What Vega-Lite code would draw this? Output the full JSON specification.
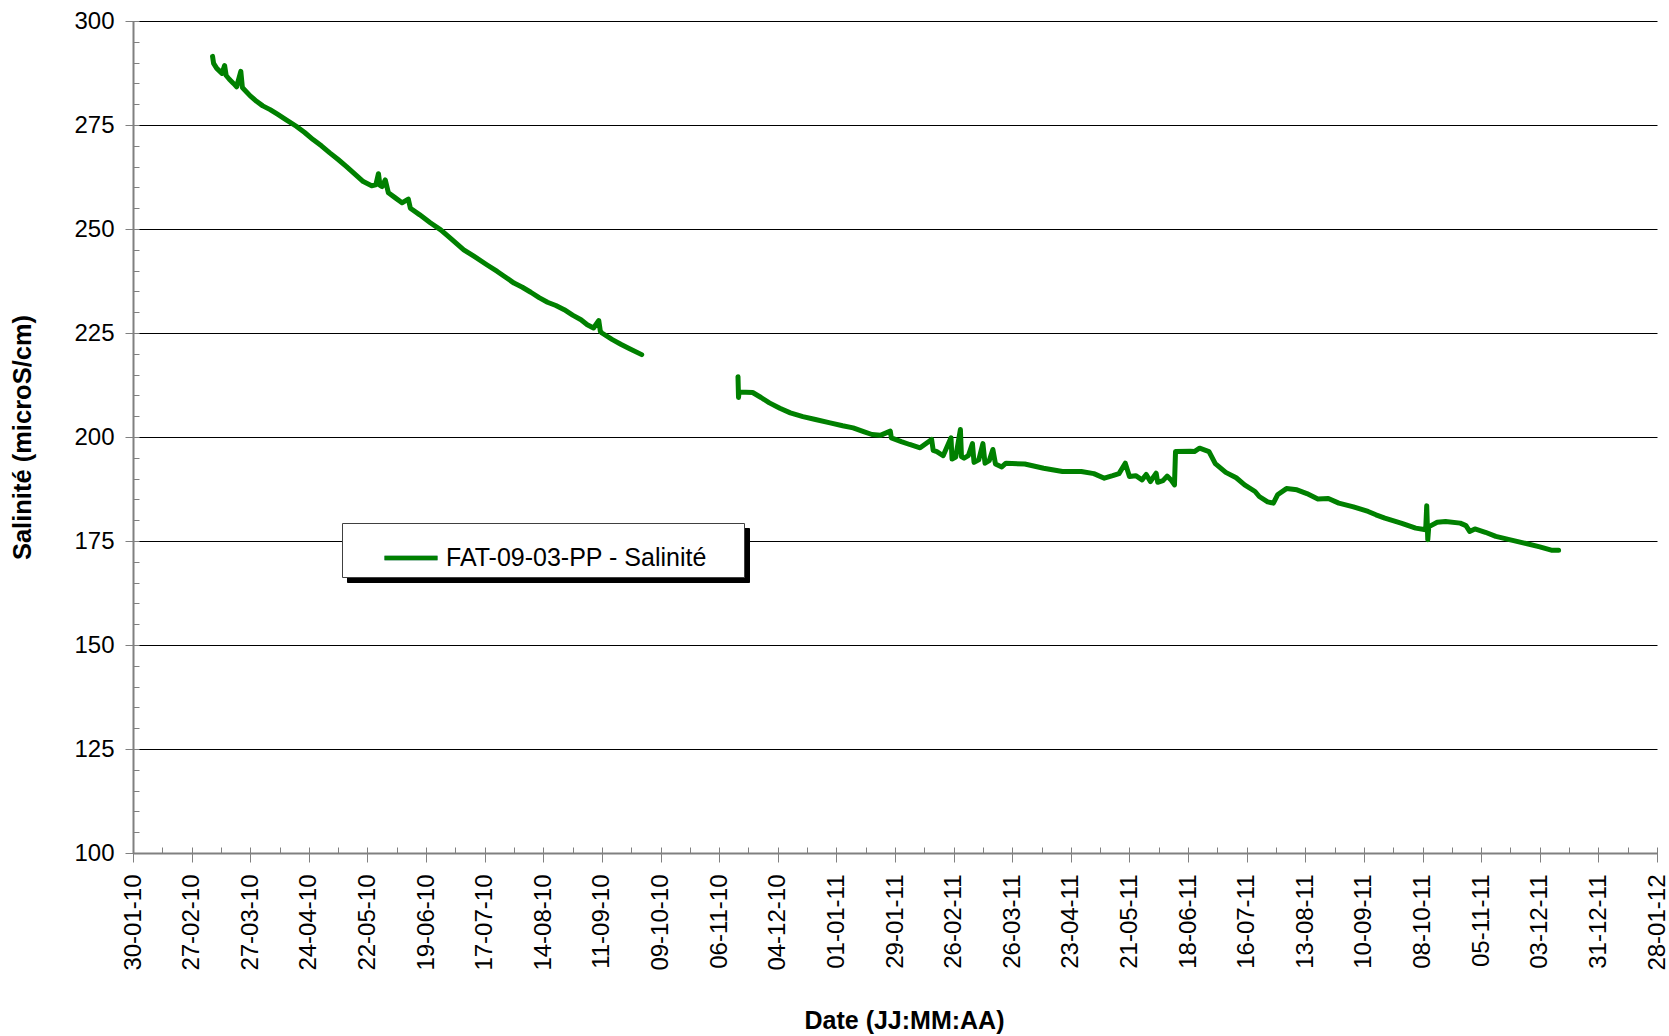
{
  "$schema": "https://vega.github.io/schema/vega-lite/v6.json",
  "width": 1524,
  "height": 832,
  "autosize": {"type": "none"},
  "padding": {"left": 133, "top": 21, "right": 12, "bottom": 183},
  "background": "#ffffff",
  "config": {
    "view": {"stroke": null},
    "font": "Liberation Sans",
    "axis": {
      "labelFont": "Liberation Sans",
      "titleFont": "Liberation Sans",
      "labelColor": "#000000",
      "titleColor": "#000000",
      "tickColor": "#808080",
      "tickWidth": 1,
      "domainColor": "#808080",
      "domainWidth": 2
    },
    "legend": {"labelFont": "Liberation Sans"}
  },
  "data": {
    "values": [
      {"date": "2010-03-09T00:00Z", "salinite": 291.5, "seg": 1},
      {"date": "2010-03-09T12:00Z", "salinite": 289.8, "seg": 1},
      {"date": "2010-03-11T00:00Z", "salinite": 288.6, "seg": 1},
      {"date": "2010-03-13T12:00Z", "salinite": 287.4, "seg": 1},
      {"date": "2010-03-14T18:00Z", "salinite": 289.3, "seg": 1},
      {"date": "2010-03-15T12:00Z", "salinite": 286.9, "seg": 1},
      {"date": "2010-03-17T00:00Z", "salinite": 286.0, "seg": 1},
      {"date": "2010-03-19T00:00Z", "salinite": 285.0, "seg": 1},
      {"date": "2010-03-20T12:00Z", "salinite": 284.2, "seg": 1},
      {"date": "2010-03-22T12:00Z", "salinite": 287.9, "seg": 1},
      {"date": "2010-03-23T06:00Z", "salinite": 284.0, "seg": 1},
      {"date": "2010-03-24T00:00Z", "salinite": 283.6, "seg": 1},
      {"date": "2010-03-27T00:00Z", "salinite": 282.0, "seg": 1},
      {"date": "2010-03-30T00:00Z", "salinite": 280.7, "seg": 1},
      {"date": "2010-04-02T00:00Z", "salinite": 279.6, "seg": 1},
      {"date": "2010-04-05T12:00Z", "salinite": 278.7, "seg": 1},
      {"date": "2010-04-09T00:00Z", "salinite": 277.6, "seg": 1},
      {"date": "2010-04-13T00:00Z", "salinite": 276.3, "seg": 1},
      {"date": "2010-04-18T00:00Z", "salinite": 274.7, "seg": 1},
      {"date": "2010-04-22T00:00Z", "salinite": 273.2, "seg": 1},
      {"date": "2010-04-26T00:00Z", "salinite": 271.5, "seg": 1},
      {"date": "2010-04-30T00:00Z", "salinite": 270.0, "seg": 1},
      {"date": "2010-05-04T00:00Z", "salinite": 268.3, "seg": 1},
      {"date": "2010-05-08T00:00Z", "salinite": 266.7, "seg": 1},
      {"date": "2010-05-12T00:00Z", "salinite": 265.0, "seg": 1},
      {"date": "2010-05-16T00:00Z", "salinite": 263.2, "seg": 1},
      {"date": "2010-05-20T00:00Z", "salinite": 261.4, "seg": 1},
      {"date": "2010-05-24T00:00Z", "salinite": 260.4, "seg": 1},
      {"date": "2010-05-26T00:00Z", "salinite": 260.6, "seg": 1},
      {"date": "2010-05-27T06:00Z", "salinite": 263.3, "seg": 1},
      {"date": "2010-05-28T00:00Z", "salinite": 260.5, "seg": 1},
      {"date": "2010-05-29T00:00Z", "salinite": 260.2, "seg": 1},
      {"date": "2010-05-30T12:00Z", "salinite": 261.8, "seg": 1},
      {"date": "2010-06-01T00:00Z", "salinite": 258.7, "seg": 1},
      {"date": "2010-06-04T00:00Z", "salinite": 257.6, "seg": 1},
      {"date": "2010-06-07T12:00Z", "salinite": 256.3, "seg": 1},
      {"date": "2010-06-10T12:00Z", "salinite": 257.2, "seg": 1},
      {"date": "2010-06-11T12:00Z", "salinite": 255.0, "seg": 1},
      {"date": "2010-06-16T00:00Z", "salinite": 253.4, "seg": 1},
      {"date": "2010-06-21T00:00Z", "salinite": 251.5, "seg": 1},
      {"date": "2010-06-26T00:00Z", "salinite": 249.8, "seg": 1},
      {"date": "2010-07-01T00:00Z", "salinite": 247.6, "seg": 1},
      {"date": "2010-07-07T00:00Z", "salinite": 245.0, "seg": 1},
      {"date": "2010-07-12T00:00Z", "salinite": 243.4, "seg": 1},
      {"date": "2010-07-18T00:00Z", "salinite": 241.4, "seg": 1},
      {"date": "2010-07-23T00:00Z", "salinite": 239.8, "seg": 1},
      {"date": "2010-07-27T00:00Z", "salinite": 238.4, "seg": 1},
      {"date": "2010-07-31T00:00Z", "salinite": 237.0, "seg": 1},
      {"date": "2010-08-04T00:00Z", "salinite": 236.0, "seg": 1},
      {"date": "2010-08-08T00:00Z", "salinite": 234.8, "seg": 1},
      {"date": "2010-08-12T00:00Z", "salinite": 233.5, "seg": 1},
      {"date": "2010-08-16T00:00Z", "salinite": 232.4, "seg": 1},
      {"date": "2010-08-20T00:00Z", "salinite": 231.6, "seg": 1},
      {"date": "2010-08-24T00:00Z", "salinite": 230.6, "seg": 1},
      {"date": "2010-08-28T00:00Z", "salinite": 229.3, "seg": 1},
      {"date": "2010-09-01T00:00Z", "salinite": 228.2, "seg": 1},
      {"date": "2010-09-04T00:00Z", "salinite": 227.0, "seg": 1},
      {"date": "2010-09-07T00:00Z", "salinite": 226.2, "seg": 1},
      {"date": "2010-09-09T12:00Z", "salinite": 228.0, "seg": 1},
      {"date": "2010-09-10T06:00Z", "salinite": 225.4, "seg": 1},
      {"date": "2010-09-11T00:00Z", "salinite": 225.0, "seg": 1},
      {"date": "2010-09-16T00:00Z", "salinite": 223.4, "seg": 1},
      {"date": "2010-09-20T00:00Z", "salinite": 222.3, "seg": 1},
      {"date": "2010-09-24T00:00Z", "salinite": 221.3, "seg": 1},
      {"date": "2010-09-30T00:00Z", "salinite": 219.8, "seg": 1},
      {"date": "2010-11-15T00:00Z", "salinite": 214.5, "seg": 2},
      {"date": "2010-11-15T06:00Z", "salinite": 209.5, "seg": 2},
      {"date": "2010-11-15T12:00Z", "salinite": 210.8, "seg": 2},
      {"date": "2010-11-22T00:00Z", "salinite": 210.7, "seg": 2},
      {"date": "2010-11-26T00:00Z", "salinite": 209.5, "seg": 2},
      {"date": "2010-11-30T00:00Z", "salinite": 208.2, "seg": 2},
      {"date": "2010-12-05T00:00Z", "salinite": 206.9, "seg": 2},
      {"date": "2010-12-10T00:00Z", "salinite": 205.8, "seg": 2},
      {"date": "2010-12-16T00:00Z", "salinite": 204.9, "seg": 2},
      {"date": "2010-12-22T00:00Z", "salinite": 204.2, "seg": 2},
      {"date": "2010-12-29T00:00Z", "salinite": 203.4, "seg": 2},
      {"date": "2011-01-04T00:00Z", "salinite": 202.7, "seg": 2},
      {"date": "2011-01-09T00:00Z", "salinite": 202.2, "seg": 2},
      {"date": "2011-01-14T00:00Z", "salinite": 201.3, "seg": 2},
      {"date": "2011-01-18T00:00Z", "salinite": 200.6, "seg": 2},
      {"date": "2011-01-22T00:00Z", "salinite": 200.4, "seg": 2},
      {"date": "2011-01-26T18:00Z", "salinite": 201.4, "seg": 2},
      {"date": "2011-01-27T06:00Z", "salinite": 199.8, "seg": 2},
      {"date": "2011-02-01T00:00Z", "salinite": 198.9, "seg": 2},
      {"date": "2011-02-05T00:00Z", "salinite": 198.2, "seg": 2},
      {"date": "2011-02-10T00:00Z", "salinite": 197.4, "seg": 2},
      {"date": "2011-02-15T12:00Z", "salinite": 199.4, "seg": 2},
      {"date": "2011-02-16T06:00Z", "salinite": 196.8, "seg": 2},
      {"date": "2011-02-18T00:00Z", "salinite": 196.5, "seg": 2},
      {"date": "2011-02-21T00:00Z", "salinite": 195.5, "seg": 2},
      {"date": "2011-02-24T18:00Z", "salinite": 199.8, "seg": 2},
      {"date": "2011-02-25T06:00Z", "salinite": 194.7, "seg": 2},
      {"date": "2011-02-27T00:00Z", "salinite": 195.2, "seg": 2},
      {"date": "2011-03-01T06:00Z", "salinite": 201.8, "seg": 2},
      {"date": "2011-03-01T18:00Z", "salinite": 195.3, "seg": 2},
      {"date": "2011-03-03T00:00Z", "salinite": 194.9, "seg": 2},
      {"date": "2011-03-05T00:00Z", "salinite": 195.5, "seg": 2},
      {"date": "2011-03-07T00:00Z", "salinite": 198.4, "seg": 2},
      {"date": "2011-03-07T18:00Z", "salinite": 193.9, "seg": 2},
      {"date": "2011-03-10T00:00Z", "salinite": 194.5, "seg": 2},
      {"date": "2011-03-12T00:00Z", "salinite": 198.4, "seg": 2},
      {"date": "2011-03-13T00:00Z", "salinite": 193.7, "seg": 2},
      {"date": "2011-03-15T00:00Z", "salinite": 194.3, "seg": 2},
      {"date": "2011-03-16T18:00Z", "salinite": 197.0, "seg": 2},
      {"date": "2011-03-18T00:00Z", "salinite": 193.5, "seg": 2},
      {"date": "2011-03-21T00:00Z", "salinite": 192.8, "seg": 2},
      {"date": "2011-03-23T00:00Z", "salinite": 193.7, "seg": 2},
      {"date": "2011-04-01T00:00Z", "salinite": 193.5, "seg": 2},
      {"date": "2011-04-10T00:00Z", "salinite": 192.5, "seg": 2},
      {"date": "2011-04-19T00:00Z", "salinite": 191.7, "seg": 2},
      {"date": "2011-04-28T00:00Z", "salinite": 191.7, "seg": 2},
      {"date": "2011-05-04T00:00Z", "salinite": 191.2, "seg": 2},
      {"date": "2011-05-09T00:00Z", "salinite": 190.1, "seg": 2},
      {"date": "2011-05-13T00:00Z", "salinite": 190.7, "seg": 2},
      {"date": "2011-05-16T00:00Z", "salinite": 191.2, "seg": 2},
      {"date": "2011-05-19T00:00Z", "salinite": 193.7, "seg": 2},
      {"date": "2011-05-21T00:00Z", "salinite": 190.5, "seg": 2},
      {"date": "2011-05-24T00:00Z", "salinite": 190.7, "seg": 2},
      {"date": "2011-05-27T00:00Z", "salinite": 189.7, "seg": 2},
      {"date": "2011-05-29T00:00Z", "salinite": 191.0, "seg": 2},
      {"date": "2011-05-31T00:00Z", "salinite": 189.3, "seg": 2},
      {"date": "2011-06-02T18:00Z", "salinite": 191.3, "seg": 2},
      {"date": "2011-06-03T12:00Z", "salinite": 189.1, "seg": 2},
      {"date": "2011-06-06T00:00Z", "salinite": 189.5, "seg": 2},
      {"date": "2011-06-08T00:00Z", "salinite": 190.6, "seg": 2},
      {"date": "2011-06-10T00:00Z", "salinite": 189.6, "seg": 2},
      {"date": "2011-06-11T12:00Z", "salinite": 188.5, "seg": 2},
      {"date": "2011-06-12T00:00Z", "salinite": 196.5, "seg": 2},
      {"date": "2011-06-19T00:00Z", "salinite": 196.6, "seg": 2},
      {"date": "2011-06-21T00:00Z", "salinite": 196.5, "seg": 2},
      {"date": "2011-06-23T12:00Z", "salinite": 197.3, "seg": 2},
      {"date": "2011-06-28T00:00Z", "salinite": 196.5, "seg": 2},
      {"date": "2011-07-01T00:00Z", "salinite": 193.6, "seg": 2},
      {"date": "2011-07-06T00:00Z", "salinite": 191.5, "seg": 2},
      {"date": "2011-07-11T00:00Z", "salinite": 190.2, "seg": 2},
      {"date": "2011-07-15T00:00Z", "salinite": 188.5, "seg": 2},
      {"date": "2011-07-20T00:00Z", "salinite": 186.9, "seg": 2},
      {"date": "2011-07-22T00:00Z", "salinite": 185.7, "seg": 2},
      {"date": "2011-07-26T00:00Z", "salinite": 184.4, "seg": 2},
      {"date": "2011-07-28T18:00Z", "salinite": 184.1, "seg": 2},
      {"date": "2011-07-30T18:00Z", "salinite": 186.1, "seg": 2},
      {"date": "2011-08-04T00:00Z", "salinite": 187.6, "seg": 2},
      {"date": "2011-08-09T00:00Z", "salinite": 187.3, "seg": 2},
      {"date": "2011-08-13T18:00Z", "salinite": 186.4, "seg": 2},
      {"date": "2011-08-19T00:00Z", "salinite": 185.1, "seg": 2},
      {"date": "2011-08-24T00:00Z", "salinite": 185.2, "seg": 2},
      {"date": "2011-08-29T00:00Z", "salinite": 184.1, "seg": 2},
      {"date": "2011-09-05T00:00Z", "salinite": 183.2, "seg": 2},
      {"date": "2011-09-12T00:00Z", "salinite": 182.1, "seg": 2},
      {"date": "2011-09-15T18:00Z", "salinite": 181.3, "seg": 2},
      {"date": "2011-09-20T00:00Z", "salinite": 180.5, "seg": 2},
      {"date": "2011-09-27T18:00Z", "salinite": 179.3, "seg": 2},
      {"date": "2011-10-04T18:00Z", "salinite": 178.1, "seg": 2},
      {"date": "2011-10-09T12:00Z", "salinite": 177.7, "seg": 2},
      {"date": "2011-10-10T00:00Z", "salinite": 183.5, "seg": 2},
      {"date": "2011-10-10T12:00Z", "salinite": 175.3, "seg": 2},
      {"date": "2011-10-11T00:00Z", "salinite": 178.6, "seg": 2},
      {"date": "2011-10-12T00:00Z", "salinite": 178.7, "seg": 2},
      {"date": "2011-10-15T00:00Z", "salinite": 179.5, "seg": 2},
      {"date": "2011-10-19T00:00Z", "salinite": 179.7, "seg": 2},
      {"date": "2011-10-26T00:00Z", "salinite": 179.3, "seg": 2},
      {"date": "2011-10-28T18:00Z", "salinite": 178.7, "seg": 2},
      {"date": "2011-10-30T12:00Z", "salinite": 177.3, "seg": 2},
      {"date": "2011-11-02T00:00Z", "salinite": 177.9, "seg": 2},
      {"date": "2011-11-07T00:00Z", "salinite": 177.1, "seg": 2},
      {"date": "2011-11-12T00:00Z", "salinite": 176.1, "seg": 2},
      {"date": "2011-11-19T12:00Z", "salinite": 175.2, "seg": 2},
      {"date": "2011-11-26T12:00Z", "salinite": 174.4, "seg": 2},
      {"date": "2011-12-03T00:00Z", "salinite": 173.6, "seg": 2},
      {"date": "2011-12-08T12:00Z", "salinite": 172.8, "seg": 2},
      {"date": "2011-12-12T00:00Z", "salinite": 172.8, "seg": 2}
    ]
  },
  "layer": [
    {
      "mark": {"type": "line", "opacity": 0},
      "encoding": {
        "x": {
          "field": "date",
          "type": "temporal",
          "scale": {
            "type": "utc",
            "nice": false,
            "domain": [
              {"year": 2010, "month": 1, "date": 30, "utc": true},
              {"year": 2012, "month": 1, "date": 28, "utc": true}
            ]
          },
          "axis": {
            "orient": "bottom",
            "title": null,
            "labels": false,
            "domain": false,
            "grid": false,
            "tickSize": -6,
            "values": [
              {"year": 2010, "month": 1, "date": 30, "utc": true},
              {"year": 2010, "month": 2, "date": 13, "utc": true},
              {"year": 2010, "month": 2, "date": 27, "utc": true},
              {"year": 2010, "month": 3, "date": 13, "utc": true},
              {"year": 2010, "month": 3, "date": 27, "utc": true},
              {"year": 2010, "month": 4, "date": 10, "utc": true},
              {"year": 2010, "month": 4, "date": 24, "utc": true},
              {"year": 2010, "month": 5, "date": 8, "utc": true},
              {"year": 2010, "month": 5, "date": 22, "utc": true},
              {"year": 2010, "month": 6, "date": 5, "utc": true},
              {"year": 2010, "month": 6, "date": 19, "utc": true},
              {"year": 2010, "month": 7, "date": 3, "utc": true},
              {"year": 2010, "month": 7, "date": 17, "utc": true},
              {"year": 2010, "month": 7, "date": 31, "utc": true},
              {"year": 2010, "month": 8, "date": 14, "utc": true},
              {"year": 2010, "month": 8, "date": 28, "utc": true},
              {"year": 2010, "month": 9, "date": 11, "utc": true},
              {"year": 2010, "month": 9, "date": 25, "utc": true},
              {"year": 2010, "month": 10, "date": 9, "utc": true},
              {"year": 2010, "month": 10, "date": 23, "utc": true},
              {"year": 2010, "month": 11, "date": 6, "utc": true},
              {"year": 2010, "month": 11, "date": 20, "utc": true},
              {"year": 2010, "month": 12, "date": 4, "utc": true},
              {"year": 2010, "month": 12, "date": 18, "utc": true},
              {"year": 2011, "month": 1, "date": 1, "utc": true},
              {"year": 2011, "month": 1, "date": 15, "utc": true},
              {"year": 2011, "month": 1, "date": 29, "utc": true},
              {"year": 2011, "month": 2, "date": 12, "utc": true},
              {"year": 2011, "month": 2, "date": 26, "utc": true},
              {"year": 2011, "month": 3, "date": 12, "utc": true},
              {"year": 2011, "month": 3, "date": 26, "utc": true},
              {"year": 2011, "month": 4, "date": 9, "utc": true},
              {"year": 2011, "month": 4, "date": 23, "utc": true},
              {"year": 2011, "month": 5, "date": 7, "utc": true},
              {"year": 2011, "month": 5, "date": 21, "utc": true},
              {"year": 2011, "month": 6, "date": 4, "utc": true},
              {"year": 2011, "month": 6, "date": 18, "utc": true},
              {"year": 2011, "month": 7, "date": 2, "utc": true},
              {"year": 2011, "month": 7, "date": 16, "utc": true},
              {"year": 2011, "month": 7, "date": 30, "utc": true},
              {"year": 2011, "month": 8, "date": 13, "utc": true},
              {"year": 2011, "month": 8, "date": 27, "utc": true},
              {"year": 2011, "month": 9, "date": 10, "utc": true},
              {"year": 2011, "month": 9, "date": 24, "utc": true},
              {"year": 2011, "month": 10, "date": 8, "utc": true},
              {"year": 2011, "month": 10, "date": 22, "utc": true},
              {"year": 2011, "month": 11, "date": 5, "utc": true},
              {"year": 2011, "month": 11, "date": 19, "utc": true},
              {"year": 2011, "month": 12, "date": 3, "utc": true},
              {"year": 2011, "month": 12, "date": 17, "utc": true},
              {"year": 2011, "month": 12, "date": 31, "utc": true},
              {"year": 2012, "month": 1, "date": 14, "utc": true},
              {"year": 2012, "month": 1, "date": 28, "utc": true}
            ]
          }
        },
        "y": {
          "field": "salinite",
          "type": "quantitative",
          "scale": {"domain": [100, 300], "nice": false, "zero": false},
          "axis": {
            "orient": "left",
            "title": null,
            "labels": false,
            "domain": false,
            "grid": false,
            "tickSize": -6,
            "values": [100, 105, 110, 115, 120, 125, 130, 135, 140, 145, 150, 155, 160, 165, 170, 175, 180, 185, 190, 195, 200, 205, 210, 215, 220, 225, 230, 235, 240, 245, 250, 255, 260, 265, 270, 275, 280, 285, 290, 295, 300]
          }
        },
        "detail": {"field": "seg", "type": "nominal"},
        "color": {
          "datum": "ombre",
          "type": "nominal",
          "scale": {"range": ["#000000"]},
          "legend": {
            "orient": "none",
            "legendX": 214,
            "legendY": 507,
            "title": null,
            "padding": 6,
            "fillColor": "#000000",
            "strokeColor": "#000000",
            "symbolType": "stroke",
            "symbolSize": 2809,
            "symbolStrokeWidth": 4.5,
            "symbolOffset": 34,
            "labelFontSize": 25,
            "labelOffset": 298,
            "labelColor": "#000000",
            "labelLimit": 0,
            "labelExpr": "''"
          }
        }
      }
    },
    {
      "mark": {"type": "point", "opacity": 0},
      "encoding": {
        "x": {"field": "date", "type": "temporal", "axis": null},
        "y": {"field": "salinite", "type": "quantitative", "axis": null},
        "fill": {
          "datum": "cadre",
          "type": "nominal",
          "scale": {"range": ["#ffffff"]},
          "legend": {
            "orient": "none",
            "legendX": 209,
            "legendY": 502,
            "title": null,
            "padding": 6,
            "fillColor": "#ffffff",
            "strokeColor": "#404040",
            "symbolType": "stroke",
            "symbolSize": 2809,
            "symbolStrokeWidth": 4.5,
            "symbolOffset": 34,
            "labelFontSize": 25,
            "labelOffset": 298,
            "labelColor": "#000000",
            "labelLimit": 0,
            "labelExpr": "''"
          }
        }
      }
    },
    {
      "mark": {"type": "line", "strokeWidth": 5, "strokeJoin": "round", "strokeCap": "round"},
      "encoding": {
        "x": {
          "field": "date",
          "type": "temporal",
          "axis": {
            "orient": "bottom",
            "title": "Date (JJ:MM:AA)",
            "titleFontSize": 25,
            "titleFontWeight": "bold",
            "titlePadding": 38,
            "titleX": 771,
            "format": "%d-%m-%y",
            "labelAngle": 270,
            "labelFontSize": 24,
            "labelPadding": 12,
            "labelOverlap": false,
            "labelFlush": false,
            "labelBound": false,
            "tickSize": 9,
            "grid": false,
            "values": [
              {"year": 2010, "month": 1, "date": 30, "utc": true},
              {"year": 2010, "month": 2, "date": 27, "utc": true},
              {"year": 2010, "month": 3, "date": 27, "utc": true},
              {"year": 2010, "month": 4, "date": 24, "utc": true},
              {"year": 2010, "month": 5, "date": 22, "utc": true},
              {"year": 2010, "month": 6, "date": 19, "utc": true},
              {"year": 2010, "month": 7, "date": 17, "utc": true},
              {"year": 2010, "month": 8, "date": 14, "utc": true},
              {"year": 2010, "month": 9, "date": 11, "utc": true},
              {"year": 2010, "month": 10, "date": 9, "utc": true},
              {"year": 2010, "month": 11, "date": 6, "utc": true},
              {"year": 2010, "month": 12, "date": 4, "utc": true},
              {"year": 2011, "month": 1, "date": 1, "utc": true},
              {"year": 2011, "month": 1, "date": 29, "utc": true},
              {"year": 2011, "month": 2, "date": 26, "utc": true},
              {"year": 2011, "month": 3, "date": 26, "utc": true},
              {"year": 2011, "month": 4, "date": 23, "utc": true},
              {"year": 2011, "month": 5, "date": 21, "utc": true},
              {"year": 2011, "month": 6, "date": 18, "utc": true},
              {"year": 2011, "month": 7, "date": 16, "utc": true},
              {"year": 2011, "month": 8, "date": 13, "utc": true},
              {"year": 2011, "month": 9, "date": 10, "utc": true},
              {"year": 2011, "month": 10, "date": 8, "utc": true},
              {"year": 2011, "month": 11, "date": 5, "utc": true},
              {"year": 2011, "month": 12, "date": 3, "utc": true},
              {"year": 2011, "month": 12, "date": 31, "utc": true},
              {"year": 2012, "month": 1, "date": 28, "utc": true}
            ]
          }
        },
        "y": {
          "field": "salinite",
          "type": "quantitative",
          "axis": {
            "orient": "left",
            "title": "Salinité (microS/cm)",
            "titleFontSize": 25.5,
            "titleFontWeight": "bold",
            "titlePadding": 38,
            "labelFontSize": 24,
            "labelPadding": 11,
            "tickSize": 8,
            "grid": true,
            "gridColor": "#000000",
            "gridWidth": 1,
            "values": [100, 125, 150, 175, 200, 225, 250, 275, 300]
          }
        },
        "detail": {"field": "seg", "type": "nominal"},
        "stroke": {
          "datum": "FAT-09-03-PP - Salinité",
          "type": "nominal",
          "scale": {"range": ["#008000"]},
          "legend": {
            "orient": "none",
            "legendX": 209,
            "legendY": 502,
            "title": null,
            "padding": 6,
            "symbolType": "stroke",
            "symbolSize": 2809,
            "symbolStrokeWidth": 4.5,
            "symbolOffset": 34,
            "labelFontSize": 25,
            "labelOffset": 6,
            "labelColor": "#000000",
            "labelLimit": 0
          }
        }
      }
    }
  ],
  "resolve": {"axis": {"x": "independent", "y": "independent"}}
}
